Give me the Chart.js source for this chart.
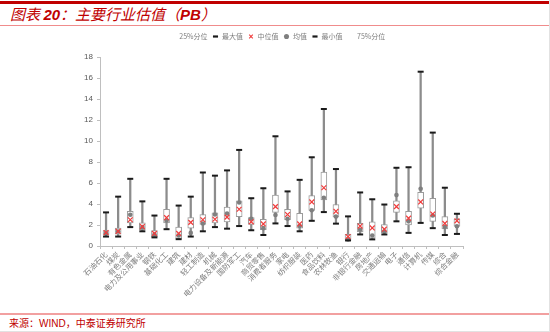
<!DOCTYPE html>
<html>
<head>
<meta charset="utf-8">
<script src="https://cdn.jsdelivr.net/npm/chart.js@4/dist/chart.umd.min.js"></script>
<style>
  html, body { margin: 0; padding: 0; background: #fff; }
  #page { position: relative; width: 549px; height: 331px; border-right: 1px solid #e2e2e2; border-bottom: 1px solid #e2e2e2; overflow: hidden; }
  #topbar { position: absolute; left: 0; top: 1px; width: 549px; height: 3px; background: #c00000; }
  #title { position: absolute; left: 10px; top: 4px; height: 20px; line-height: 20px; font-family: "Noto Sans CJK SC", sans-serif; font-style: italic; font-size: 15px; color: #c00000; }
  #title b { font-family: "Liberation Sans", Arial, sans-serif; }
  #titleline { position: absolute; left: 0; top: 25px; width: 549px; height: 1px; background: #f08c8c; }
  #footline { position: absolute; left: 0; top: 313px; width: 549px; height: 2px; background: #f2a0a0; }
  #source { position: absolute; left: 9px; top: 315px; height: 15px; line-height: 15px; font-family: "Noto Sans CJK SC", sans-serif; font-size: 10px; color: #c00000; }
  #source span { font-family: "Liberation Sans", Arial, sans-serif; }
  #wrap { position: absolute; left: 0; top: 28px; width: 550px; height: 285px; }
</style>
</head>
<body>
<div id="page">
  <div id="topbar"></div>
  <div id="title">图表 <b>20</b>：主要行业估值（<b>PB</b>）</div>
  <div id="titleline"></div>
  <div id="wrap"><canvas id="pbChart"></canvas></div>
  <div id="footline"></div>
  <div id="source">来源：<span>WIND</span>，中泰证券研究所</div>
</div>
<script>
// industry PB valuation box plot

const categories = ['石油石化', '煤炭', '有色金属', '电力及公用事业', '钢铁', '基础化工', '建筑', '建材',
    '轻工制造', '机械', '电力设备及新能源', '国防军工', '汽车', '商贸零售', '消费者服务', '家电',
    '纺织服装', '医药', '食品饮料', '农林牧渔', '银行', '非银行金融', '房地产', '交通运输',
    '电子', '通信', '计算机', '传媒', '综合', '综合金融'];

const maxVals    = [3.2, 4.7, 6.4, 4.25, 2.9, 6.4, 3.85, 4.7, 7.0, 6.7, 7.2, 9.15, 4.55, 5.5, 10.45, 5.2,
                    6.3, 8.45, 13.05, 7.33, 2.82, 5.1, 4.45, 3.95, 7.45, 7.5, 16.6, 10.8, 5.55, 3.07];
const q3Vals     = [1.47, 1.7, 3.3, 2.2, 1.47, 3.5, 1.8, 2.7, 3.0, 3.15, 3.7, 4.3, 2.7, 2.55, 4.85, 3.5,
                    3.1, 4.8, 7.05, 3.95, 1.1, 2.15, 2.3, 2.05, 4.3, 3.3, 5.1, 4.55, 2.8, 2.55];
const medianVals = [1.28, 1.4, 2.5, 1.85, 1.2, 2.7, 1.2, 2.25, 2.5, 2.55, 2.75, 3.5, 2.3, 2.1, 3.75, 3.0,
                    2.1, 4.2, 5.55, 3.3, 0.9, 1.9, 1.72, 1.6, 3.75, 2.65, 4.2, 3.05, 2.15, 2.4];
const meanVals   = [1.2, 1.38, 2.97, 1.8, 1.1, 2.4, 1.0, 1.25, 2.15, 3.0, 3.1, 4.15, 2.6, 1.7, 2.95, 2.6,
                    1.9, 3.4, 4.6, 2.8, 0.62, 1.55, 1.0, 1.38, 4.85, 2.35, 5.45, 2.9, 1.8, 1.88];
const q1Vals     = [1.1, 1.12, 2.2, 1.55, 0.9, 2.2, 0.72, 1.7, 2.05, 2.2, 2.3, 2.8, 2.05, 1.55, 3.2, 2.5,
                    1.7, 3.4, 4.4, 2.75, 0.6, 1.35, 0.75, 1.25, 3.2, 2.0, 3.6, 2.35, 1.63, 1.9];
const minVals    = [0.9, 0.9, 1.8, 1.4, 0.82, 1.6, 0.65, 0.9, 1.4, 1.8, 1.65, 1.9, 1.5, 1.05, 2.15, 1.9,
                    1.4, 2.4, 3.23, 2.13, 0.53, 1.1, 0.63, 1.1, 2.35, 1.25, 2.2, 1.7, 1.05, 1.15];

const yTicks = [0, 2, 4, 6, 8, 10, 12, 14, 16, 18];

const GRAY_AXIS = '#bfbfbf';
const TEXT_GRAY = '#595959';
const CAP_COLOR = '#1a1a1a';
const MED_COLOR = '#f03c3c';
const MEAN_COLOR = '#7f7f7f';

const ctx = document.getElementById('pbChart').getContext('2d');

// legend entries in the order of the original
const legendSpec = [
    { text: '25%分位', ds: 1, style: 'line', fill: 'rgba(0,0,0,0)', stroke: 'rgba(0,0,0,0)', lw: 0 },
    { text: '最大值', ds: 2, style: 'line', fill: CAP_COLOR, stroke: CAP_COLOR, lw: 2.2 },
    { text: '中位值', ds: 4, style: 'crossRot', fill: MED_COLOR, stroke: MED_COLOR, lw: 1.1 },
    { text: '均值', ds: 5, style: 'circle', fill: MEAN_COLOR, stroke: MEAN_COLOR, lw: 0 },
    { text: '最小值', ds: 3, style: 'line', fill: CAP_COLOR, stroke: CAP_COLOR, lw: 2.2 },
    { text: '75%分位', ds: 1, style: 'line', fill: 'rgba(0,0,0,0)', stroke: 'rgba(0,0,0,0)', lw: 0 }
];

// extra room under the legend, and legend centred over the plot
const legendTweak = {
    id: 'legendTweak',
    beforeInit(chart) {
        const fit = chart.legend.fit;
        chart.legend.fit = function () {
            fit.bind(chart.legend)();
            this.height += 7;
        };
    },
    afterLayout(chart) {
        chart.legend.left += 16;
        chart.legend.right += 16;
    }
};

const chart = new Chart(ctx, {
    type: 'bar',
    data: {
        labels: categories,
        datasets: [
            {   // whisker min..max
                label: 'whisker',
                data: minVals.map((v, i) => [v, maxVals[i]]),
                backgroundColor: '#8c8c8c',
                borderWidth: 0,
                barThickness: 1.6,
                grouped: false,
                order: 6
            },
            {   // box q1..q3
                label: 'box',
                data: q1Vals.map((v, i) => [v, q3Vals[i]]),
                backgroundColor: '#ffffff',
                borderColor: '#9a9a9a',
                borderWidth: 1,
                borderSkipped: false,
                barThickness: 6,
                grouped: false,
                order: 5
            },
            {
                type: 'line', label: '最大值', data: maxVals, showLine: false,
                pointStyle: 'line', pointRadius: 3, pointHoverRadius: 3,
                pointBorderWidth: 2, pointBorderColor: CAP_COLOR, pointBackgroundColor: CAP_COLOR,
                order: 1
            },
            {
                type: 'line', label: '最小值', data: minVals, showLine: false,
                pointStyle: 'line', pointRadius: 3, pointHoverRadius: 3,
                pointBorderWidth: 2, pointBorderColor: CAP_COLOR, pointBackgroundColor: CAP_COLOR,
                order: 1
            },
            {
                type: 'line', label: '中位值', data: medianVals, showLine: false,
                pointStyle: 'crossRot', pointRadius: 3.4, pointHoverRadius: 3.4,
                pointBorderWidth: 1.2, pointBorderColor: MED_COLOR, pointBackgroundColor: MED_COLOR,
                order: 2
            },
            {
                type: 'line', label: '均值', data: meanVals, showLine: false,
                pointStyle: 'circle', pointRadius: 2.3, pointHoverRadius: 2.3,
                pointBorderWidth: 0, pointBorderColor: MEAN_COLOR, pointBackgroundColor: MEAN_COLOR,
                order: 3
            }
        ]
    },
    options: {
        responsive: true,
        maintainAspectRatio: false,
        animation: false,
        layout: { padding: { left: 60, right: 87, top: 0, bottom: 0 } },
        scales: {
            x: {
                offset: true,
                grid: { offset: true, drawOnChartArea: false, drawTicks: true, tickLength: 3, color: GRAY_AXIS },
                border: { color: GRAY_AXIS },
                ticks: {
                    autoSkip: false, minRotation: 45, maxRotation: 45, padding: 1,
                    color: '#7f7f7f', font: { family: 'Noto Sans CJK SC', size: 7.5 }
                },
                afterFit: s => { s.height = 67; }
            },
            y: {
                min: 0, max: 18,
                afterBuildTicks: s => { s.ticks = yTicks.map(v => ({ value: v })); },
                grid: { drawOnChartArea: false, drawTicks: true, tickLength: 3, color: GRAY_AXIS },
                border: { color: GRAY_AXIS },
                ticks: { color: TEXT_GRAY, padding: 4, font: { family: 'Liberation Sans', size: 8 } },
                afterFit: s => { s.width = 40; }
            }
        },
        plugins: {
            legend: {
                display: true,
                position: 'top',
                labels: {
                    usePointStyle: true,
                    boxWidth: 6, boxHeight: 3.6,
                    padding: 5,
                    color: '#7f7f7f',
                    font: { family: 'Noto Sans CJK SC', size: 7 },
                    generateLabels: () => legendSpec.map(l => ({
                        text: l.text, datasetIndex: l.ds, pointStyle: l.style,
                        fillStyle: l.fill, strokeStyle: l.stroke, lineWidth: l.lw,
                        fontColor: '#7f7f7f', hidden: false
                    }))
                }
            },
            tooltip: { enabled: false }
        }
    },
    plugins: [legendTweak]
});
</script>
</body>
</html>
